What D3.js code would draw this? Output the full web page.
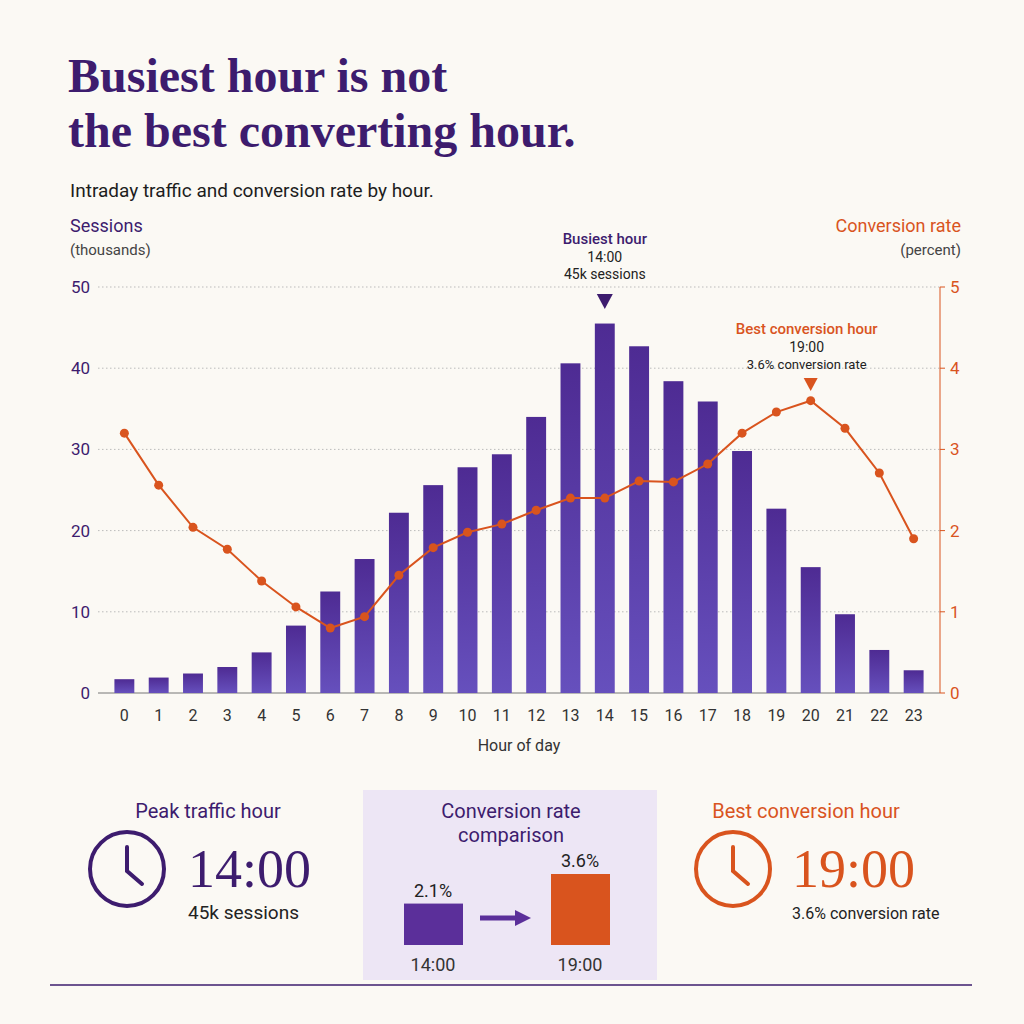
<!DOCTYPE html>
<html><head><meta charset="utf-8">
<script src="https://cdn.jsdelivr.net/npm/d3@7"></script>
<style>body{margin:0;background:#fbf9f4}svg{display:block}</style>
</head><body><svg id="c" width="1024" height="1024"></svg>
<script>
const hours = d3.range(24).map(String);
const sessions = [1.7,1.9,2.4,3.2,5.0,8.3,12.5,16.5,22.2,25.6,27.8,29.4,34.0,40.6,45.5,42.7,38.4,35.9,29.8,22.7,15.5,9.7,5.3,2.8];
const conversion = [3.2,2.56,2.04,1.77,1.38,1.06,0.8,0.94,1.45,1.79,1.98,2.08,2.25,2.4,2.4,2.61,2.6,2.82,3.2,3.46,3.6,3.26,2.71,1.9];
const leftTicks = [0,10,20,30,40,50];
const rightTicks = [0,1,2,3,4,5];
const compareLabels = ["14:00","19:00"];
const compareValues = [2.1,3.6];

const P="#3d1c6e", O="#d9541e", sans="Roboto, 'Open Sans', sans-serif";
const svg=d3.select("#c");
svg.append("rect").attr("width",1024).attr("height",1024).attr("fill","#fbf9f4");
const defs=svg.append("defs");
const g=defs.append("linearGradient").attr("id","bg").attr("x1",0).attr("y1",0).attr("x2",0).attr("y2",1);
g.append("stop").attr("offset",0).attr("stop-color","#4e2b93");
g.append("stop").attr("offset",1).attr("stop-color","#6650bd");

const T=(x,y,t,o={})=>svg.append("text").attr("x",x).attr("y",y).text(t)
  .attr("font-family",o.f||sans).attr("font-size",o.s||16).attr("fill",o.c||"#222")
  .attr("font-weight",o.w||400).attr("text-anchor",o.a||"start");

T(68,92,"Busiest hour is not",{f:"'Liberation Serif','DejaVu Serif',serif",s:48,c:P,w:700});
T(68,147,"the best converting hour.",{f:"'Liberation Serif','DejaVu Serif',serif",s:48,c:P,w:700});
T(70,197,"Intraday traffic and conversion rate by hour.",{s:19,c:"#1d1d1d"});
T(70,232,"Sessions",{s:18,c:P});
T(70,255,"(thousands)",{s:15,c:"#444"});
T(961,232,"Conversion rate",{s:18,c:O,a:"end"});
T(961,255,"(percent)",{s:15,c:"#444",a:"end"});

const x=d3.scaleBand().domain(hours).range([100,938]).padding(0.42);
const yL=d3.scaleLinear().domain([0,50]).range([693,287]);
const yR=d3.scaleLinear().domain([0,5]).range([693,287]);

svg.append("g").selectAll("line").data(leftTicks.slice(1)).join("line")
  .attr("x1",98).attr("x2",940).attr("y1",d=>yL(d)).attr("y2",d=>yL(d))
  .attr("stroke","#bbb").attr("stroke-dasharray","1.5,2.5");
svg.append("line").attr("x1",98).attr("x2",940).attr("y1",693).attr("y2",693).attr("stroke","#777");
svg.append("line").attr("x1",940).attr("x2",940).attr("y1",287).attr("y2",693).attr("stroke",O);

svg.append("g").selectAll("text").data(leftTicks).join("text")
  .attr("x",90).attr("y",d=>yL(d)+6).attr("text-anchor","end").text(d=>d)
  .attr("font-family",sans).attr("font-size",17).attr("fill",P);
svg.append("g").selectAll("g").data(rightTicks).join(s=>{const gg=s.append("g");
  gg.append("line").attr("x1",940).attr("x2",945).attr("y1",d=>yR(d)).attr("y2",d=>yR(d)).attr("stroke",O);
  gg.append("text").attr("x",950).attr("y",d=>yR(d)+6).text(d=>d)
   .attr("font-family",sans).attr("font-size",17).attr("fill",O);return gg;});

svg.append("g").selectAll("rect").data(sessions).join("rect")
  .attr("x",(d,i)=>x(hours[i])).attr("width",x.bandwidth())
  .attr("y",d=>yL(d)).attr("height",d=>693-yL(d)).attr("fill","url(#bg)");

svg.append("g").selectAll("text").data(hours).join("text")
  .attr("x",d=>x(d)+x.bandwidth()/2).attr("y",721).attr("text-anchor","middle").text(d=>d)
  .attr("font-family",sans).attr("font-size",16).attr("fill","#333");
T(519,751,"Hour of day",{s:16,c:"#333",a:"middle"});

const cx=i=>x(hours[i])+x.bandwidth()/2;
svg.append("path").datum(conversion).attr("fill","none").attr("stroke",O).attr("stroke-width",2)
  .attr("d",d3.line().x((d,i)=>cx(i)).y(d=>yR(d)));
svg.append("g").selectAll("circle").data(conversion).join("circle")
  .attr("cx",(d,i)=>cx(i)).attr("cy",d=>yR(d)).attr("r",4.5).attr("fill",O);

// annotations
const bx=cx(14);
T(bx,244,"Busiest hour",{s:15,c:P,a:"middle",w:500});
T(bx,262,"14:00",{s:14,c:"#222",a:"middle"});
T(bx,279,"45k sessions",{s:14,c:"#222",a:"middle"});
svg.append("path").attr("d",`M${bx-8},294 L${bx+8},294 L${bx},309 Z`).attr("fill",P);
const ox=cx(20);
T(ox-4,334,"Best conversion hour",{s:15,c:O,a:"middle",w:500});
T(ox-4,352,"19:00",{s:14,c:"#222",a:"middle"});
T(ox-4,369,"3.6% conversion rate",{s:13,c:"#222",a:"middle"});
svg.append("path").attr("d",`M${ox-7},378 L${ox+7},378 L${ox},391 Z`).attr("fill",O);

// bottom panels
T(208,818,"Peak traffic hour",{s:20,c:P,a:"middle"});
const clock=(cx0,cy,c)=>{svg.append("circle").attr("cx",cx0).attr("cy",cy).attr("r",37).attr("fill","none").attr("stroke",c).attr("stroke-width",4);
  svg.append("path").attr("d",`M${cx0},${cy-22} L${cx0},${cy+2} L${cx0+15},${cy+15}`).attr("fill","none").attr("stroke",c).attr("stroke-width",4).attr("stroke-linecap","round");};
clock(127,869,P);
T(188,887,"14:00",{f:"'Liberation Serif','DejaVu Serif',serif",s:54,c:P});
T(188,919,"45k sessions",{s:19,c:"#222"});

svg.append("rect").attr("x",363).attr("y",790).attr("width",294).attr("height",190).attr("fill","#ede6f5");
T(511,818,"Conversion rate",{s:20,c:P,a:"middle"});
T(511,842,"comparison",{s:20,c:P,a:"middle"});
const cy2=d3.scaleLinear().domain([0,3.6]).range([945,874]);
const cxs=[404,551], cols=[P==="x"?P:"#5b2f9a",O];
compareValues.forEach((v,i)=>{
  svg.append("rect").attr("x",cxs[i]).attr("y",cy2(v)).attr("width",59).attr("height",945-cy2(v)).attr("fill",cols[i]);
  T(cxs[i]+29,cy2(v)-7,v+"%",{s:18,c:"#222",a:"middle"});
  T(cxs[i]+29,971,compareLabels[i],{s:18,c:"#333",a:"middle"});
});
svg.append("line").attr("x1",480).attr("x2",518).attr("y1",918).attr("y2",918).attr("stroke","#5b2f9a").attr("stroke-width",5);
svg.append("path").attr("d","M515,910 L531,918 L515,926 Z").attr("fill","#5b2f9a");

T(806,818,"Best conversion hour",{s:20,c:O,a:"middle"});
clock(733,869,O);
T(792,887,"19:00",{f:"'Liberation Serif','DejaVu Serif',serif",s:54,c:O});
T(792,919,"3.6% conversion rate",{s:16,c:"#222"});
svg.append("line").attr("x1",50).attr("x2",972).attr("y1",985).attr("y2",985).attr("stroke",P).attr("stroke-width",1.5);
</script></body></html>
